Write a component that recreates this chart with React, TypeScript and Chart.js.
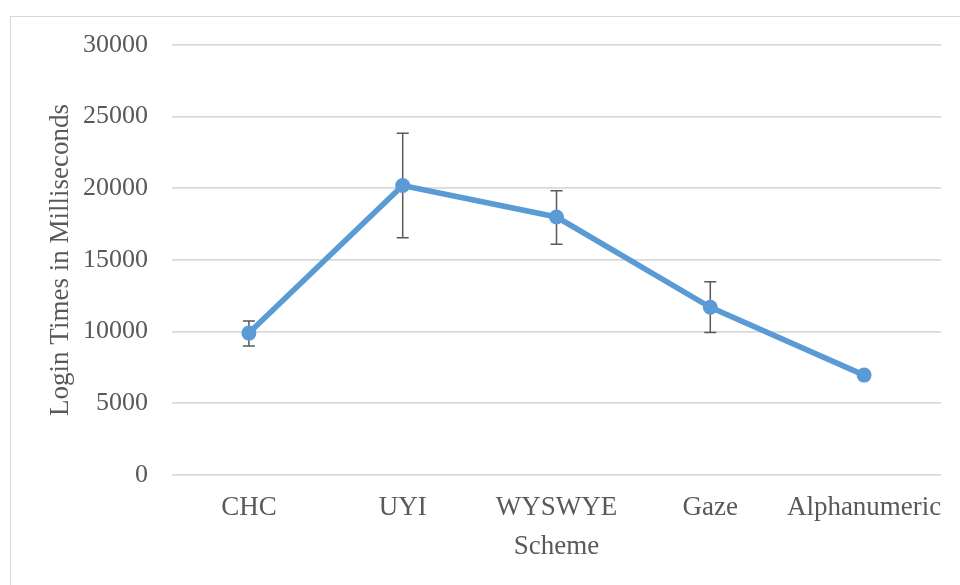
import React, { useEffect, useRef } from "react";
import { Chart, registerables } from "chart.js";

Chart.register(...registerables);

const categories = ["CHC", "UYI", "WYSWYE", "Gaze", "Alphanumeric"];
const meanTimes = [9900, 20200, 18000, 11700, 6970];
const errorLow = [9000, 16550, 16100, 9950, 6850];
const errorHigh = [10750, 23850, 19840, 13480, 7100];
const yTicks = [0, 5000, 10000, 15000, 20000, 25000, 30000];

const FONT = "'Liberation Serif', 'Times New Roman', serif";
const TEXT = "#595959";

const errorBarPlugin = {
  id: "errorBars",
  beforeDatasetsDraw(chart: any) {
    const ctx = chart.ctx;
    const xs = chart.scales.x;
    const ys = chart.scales.y;
    ctx.save();
    ctx.strokeStyle = "#595959";
    ctx.lineWidth = 1.5;
    categories.forEach((_, i) => {
      const x = xs.getPixelForValue(i);
      const yl = ys.getPixelForValue(errorLow[i]);
      const yh = ys.getPixelForValue(errorHigh[i]);
      ctx.beginPath();
      ctx.moveTo(x, yl);
      ctx.lineTo(x, yh);
      ctx.moveTo(x - 6, yl);
      ctx.lineTo(x + 6, yl);
      ctx.moveTo(x - 6, yh);
      ctx.lineTo(x + 6, yh);
      ctx.stroke();
    });
    ctx.restore();
  },
};

export default function App() {
  const ref = useRef<HTMLCanvasElement>(null);
  useEffect(() => {
    document.body.style.margin = "0";
    document.body.style.overflow = "hidden";
    const chart = new Chart(ref.current!, {
      type: "line",
      data: {
        labels: categories,
        datasets: [
          {
            data: meanTimes,
            borderColor: "#5b9bd5",
            backgroundColor: "#5b9bd5",
            borderWidth: 5.6,
            pointRadius: 7.5,
            pointHoverRadius: 7.5,
            pointBorderWidth: 0,
            tension: 0,
          },
        ],
      },
      options: {
        responsive: false,
        animation: false,
        layout: { padding: { top: 45, right: 19, bottom: 22, left: 45 } },
        plugins: { legend: { display: false }, tooltip: { enabled: false } },
        scales: {
          x: {
            offset: true,
            grid: { display: false, drawTicks: false },
            border: { display: false },
            afterFit(scale: any) {
              scale.height = 88;
              scale.paddingLeft = 0;
              scale.paddingRight = 0;
            },
            ticks: {
              color: TEXT,
              font: { family: FONT, size: 27, lineHeight: 1 },
              padding: 19,
              maxRotation: 0,
              autoSkip: false,
            },
            title: {
              display: true,
              text: "Scheme",
              color: TEXT,
              font: { family: FONT, size: 27 },
              padding: { top: 0, bottom: 0 },
            },
          },
          y: {
            min: 0,
            max: 30000,
            afterBuildTicks(scale: any) {
              scale.ticks = yTicks.map((v) => ({ value: v }));
            },
            afterFit(scale: any) {
              scale.width = 127;
            },
            grid: { color: "#d9d9d9", lineWidth: 1.75, drawTicks: false },
            border: { display: false },
            ticks: {
              color: TEXT,
              font: { family: FONT, size: 26 },
              padding: 24,
              callback: (v: any) => String(v),
            },
            title: {
              display: true,
              text: "Login Times in Milliseconds",
              color: TEXT,
              font: { family: FONT, size: 27 },
              padding: { top: 0, bottom: 7 },
            },
          },
        },
      },
      plugins: [errorBarPlugin],
    });
    return () => chart.destroy();
  }, []);
  return (
    <div style={{ position: "relative", width: 960, height: 585, overflow: "hidden", background: "#fff" }}>
      <div
        style={{
          position: "absolute",
          left: 10,
          top: 16,
          width: 1000,
          height: 600,
          borderLeft: "1px solid #d9d9d9",
          borderTop: "1px solid #d9d9d9",
        }}
      />
      <canvas ref={ref} width={960} height={585} style={{ position: "absolute", left: 0, top: 0 }} />
    </div>
  );
}
